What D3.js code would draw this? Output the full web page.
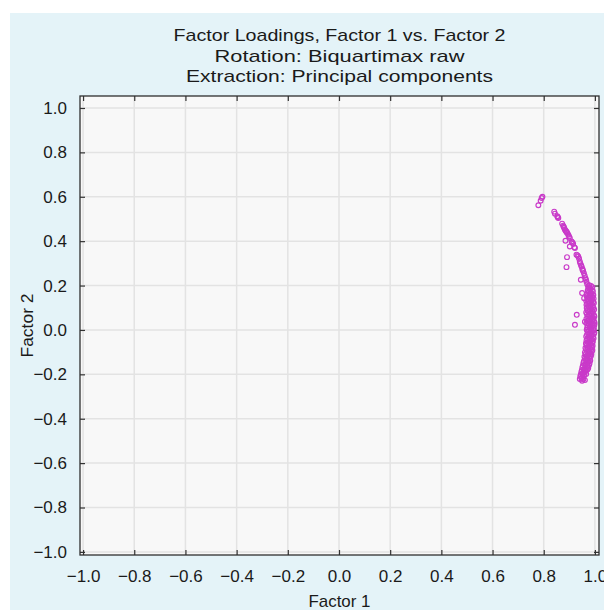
<!DOCTYPE html>
<html>
<head>
<meta charset="utf-8">
<script src="https://cdn.jsdelivr.net/npm/d3@7"></script>
<style>
  html, body { margin: 0; padding: 0; background: #ffffff; }
  svg { display: block; font-family: "Liberation Sans", Arial, sans-serif; }
</style>
</head>
<body>
<svg id="chart" width="604" height="610"></svg>
<script>
// Titles and axis labels
const titleLines = [
  "Factor Loadings, Factor 1 vs. Factor 2",
  "Rotation: Biquartimax raw",
  "Extraction: Principal components"
];
const xLabel = "Factor 1";
const yLabel = "Factor 2";

// Tick values shared by both axes
const xTicks = [-1.0, -0.8, -0.6, -0.4, -0.2, 0.0, 0.2, 0.4, 0.6, 0.8, 1.0];
const yTicks = [-1.0, -0.8, -0.6, -0.4, -0.2, 0.0, 0.2, 0.4, 0.6, 0.8, 1.0];

// Loadings of each variable on Factor 1 (one entry per variable)
const factor1 = [
  0.795, 0.792, 0.788, 0.779,
  0.841, 0.844, 0.853, 0.857, 0.855,
  0.872, 0.876, 0.878, 0.880, 0.883, 0.886, 0.888, 0.892, 0.890, 0.896,
  0.899, 0.902, 0.885, 0.909, 0.912, 0.915, 0.902, 0.920, 0.922,
  0.891, 0.889, 0.928, 0.935, 0.932, 0.938, 0.941, 0.943, 0.946, 0.948,
  0.951, 0.954, 0.952, 0.957, 0.945, 0.960, 0.963, 0.965, 0.967, 0.970,
  0.974, 0.950, 0.958, 0.967, 0.929, 0.922, 0.961, 0.967,
  0.978, 0.985,
  0.975, 0.982, 0.990,
  0.972, 0.980, 0.988,
  0.976, 0.984, 0.992,
  0.970, 0.979, 0.987, 0.994,
  0.968, 0.975, 0.983, 0.991,
  0.972, 0.980, 0.988, 0.995,
  0.966, 0.976, 0.985, 0.993,
  0.970, 0.979, 0.987, 0.996,
  0.974, 0.983, 0.991,
  0.968, 0.977, 0.986, 0.994,
  0.971, 0.980, 0.989, 0.997,
  0.966, 0.975, 0.984, 0.992,
  0.969, 0.978, 0.987, 0.996,
  0.973, 0.982, 0.990, 0.998,
  0.967, 0.976, 0.985, 0.994,
  0.971, 0.980, 0.989, 0.997,
  0.975, 0.984, 0.992, 0.999,
  0.973, 0.982, 0.991, 0.998,
  0.970, 0.979, 0.988, 0.996,
  0.968, 0.977, 0.986, 0.995,
  0.972, 0.981, 0.990, 0.998,
  0.969, 0.978, 0.987, 0.996,
  0.966, 0.975, 0.984, 0.993,
  0.970, 0.979, 0.988, 0.995,
  0.967, 0.976, 0.985, 0.992,
  0.965, 0.973, 0.982, 0.990,
  0.968, 0.977, 0.986, 0.991,
  0.963, 0.972, 0.980, 0.989,
  0.966, 0.975, 0.984, 0.990,
  0.961, 0.970, 0.979, 0.987,
  0.964, 0.973, 0.982, 0.986,
  0.959, 0.968, 0.977, 0.984,
  0.962, 0.971, 0.980,
  0.957, 0.966, 0.975, 0.982,
  0.955, 0.964, 0.973, 0.979,
  0.953, 0.962, 0.970, 0.977,
  0.951, 0.960, 0.968, 0.974,
  0.949, 0.957, 0.965, 0.971,
  0.947, 0.955, 0.962,
  0.945, 0.952, 0.959, 0.966,
  0.943, 0.950, 0.957,
  0.941, 0.948, 0.955, 0.961,
  0.950
];

// Loadings of the same variables on Factor 2 (same order as factor1)
const factor2 = [
  0.600, 0.594, 0.582, 0.562,
  0.533, 0.524, 0.512, 0.504, 0.508,
  0.479, 0.470, 0.465, 0.459, 0.451, 0.447, 0.444, 0.437, 0.440, 0.429,
  0.421, 0.414, 0.402, 0.399, 0.394, 0.388, 0.376, 0.372, 0.369,
  0.328, 0.283, 0.339, 0.331, 0.336, 0.322, 0.308, 0.300, 0.292, 0.286,
  0.276, 0.266, 0.270, 0.256, 0.226, 0.244, 0.233, 0.226, 0.217, 0.206,
  0.196, 0.166, 0.143, 0.113, 0.068, 0.023, 0.037, 0.030,
  0.202, 0.198,
  0.191, 0.188, 0.193,
  0.179, 0.183, 0.177,
  0.171, 0.168, 0.174,
  0.161, 0.158, 0.163, 0.157,
  0.152, 0.147, 0.151, 0.149,
  0.139, 0.142, 0.137, 0.141,
  0.131, 0.128, 0.133, 0.127,
  0.119, 0.122, 0.118, 0.121,
  0.108, 0.111, 0.107,
  0.099, 0.102, 0.097, 0.101,
  0.089, 0.091, 0.087, 0.092,
  0.079, 0.082, 0.078, 0.081,
  0.071, 0.068, 0.072, 0.067,
  0.059, 0.062, 0.058, 0.061,
  0.051, 0.048, 0.052, 0.049,
  0.041, 0.039, 0.042, 0.038,
  0.029, 0.032, 0.028, 0.031,
  0.019, 0.021, 0.018, 0.022,
  0.011, 0.009, 0.012, 0.008,
  0.001, -0.002, 0.002, -0.001,
  -0.009, -0.011, -0.008, -0.012,
  -0.021, -0.019, -0.022, -0.018,
  -0.029, -0.032, -0.028, -0.031,
  -0.041, -0.039, -0.042, -0.038,
  -0.049, -0.052, -0.048, -0.051,
  -0.061, -0.059, -0.062, -0.058,
  -0.069, -0.072, -0.068, -0.071,
  -0.081, -0.079, -0.082, -0.078,
  -0.089, -0.092, -0.088, -0.091,
  -0.101, -0.099, -0.102, -0.098,
  -0.109, -0.112, -0.108, -0.111,
  -0.121, -0.119, -0.122, -0.118,
  -0.129, -0.132, -0.128,
  -0.141, -0.139, -0.142, -0.138,
  -0.149, -0.152, -0.148, -0.151,
  -0.161, -0.159, -0.162, -0.158,
  -0.169, -0.172, -0.168, -0.171,
  -0.181, -0.179, -0.182, -0.178,
  -0.189, -0.192, -0.188,
  -0.201, -0.199, -0.202, -0.198,
  -0.209, -0.212, -0.208,
  -0.221, -0.219, -0.222, -0.226,
  -0.229
];

const points = factor1.map((f, i) => ({ f1: f, f2: factor2[i] }));

const svg = d3.select("#chart");
const W = 604, H = 610;
const plot = { left: 80, right: 599, top: 96, bottom: 555 };
const textColor = "#1a1a1a";

// Panel background
svg.append("rect").attr("x", 0).attr("y", 0).attr("width", W).attr("height", H).attr("fill", "#ffffff");
svg.append("rect").attr("x", 10).attr("y", 13).attr("width", W - 10).attr("height", H - 13).attr("fill", "#e4f3f8");

const x = d3.scaleLinear().domain([-1.012, 1.016]).range([plot.left, plot.right]);
const y = d3.scaleLinear().domain([-1.014, 1.054]).range([plot.bottom, plot.top]);

// Plot area
svg.append("rect")
  .attr("x", plot.left).attr("y", plot.top)
  .attr("width", plot.right - plot.left).attr("height", plot.bottom - plot.top)
  .attr("fill", "#f8f8f8");

// Grid lines
const grid = svg.append("g").attr("stroke", "#e3e3e3").attr("stroke-width", 1.5);
grid.selectAll("line.v").data(xTicks).join("line")
  .attr("class", "v")
  .attr("x1", d => x(d)).attr("x2", d => x(d))
  .attr("y1", plot.top).attr("y2", plot.bottom);
grid.selectAll("line.h").data(yTicks).join("line")
  .attr("class", "h")
  .attr("y1", d => y(d)).attr("y2", d => y(d))
  .attr("x1", plot.left).attr("x2", plot.right);

const fmt = d3.format(".1f");
const tickLen = 5;

// Axes with inward ticks on all four sides
const axisStyle = g => {
  g.select(".domain").remove();
  g.selectAll(".tick line").attr("stroke", "#333333").attr("stroke-width", 1.2);
  g.selectAll(".tick text").attr("fill", textColor).attr("font-size", 17)
    .attr("font-family", "'Liberation Sans', Arial, sans-serif");
};

svg.append("g")
  .attr("transform", `translate(0,${plot.bottom})`)
  .call(d3.axisBottom(x).tickValues(xTicks).tickFormat(fmt).tickSizeInner(-tickLen).tickSizeOuter(0).tickPadding(15))
  .call(axisStyle);

svg.append("g")
  .attr("transform", `translate(0,${plot.top})`)
  .call(d3.axisTop(x).tickValues(xTicks).tickFormat("").tickSizeInner(-tickLen).tickSizeOuter(0))
  .call(axisStyle);

svg.append("g")
  .attr("transform", `translate(${plot.left},0)`)
  .call(d3.axisLeft(y).tickValues(yTicks).tickFormat(fmt).tickSizeInner(-tickLen).tickSizeOuter(0).tickPadding(13))
  .call(axisStyle);

svg.append("g")
  .attr("transform", `translate(${plot.right},0)`)
  .call(d3.axisRight(y).tickValues(yTicks).tickFormat("").tickSizeInner(-tickLen).tickSizeOuter(0))
  .call(axisStyle);

// Frame
svg.append("rect")
  .attr("x", plot.left).attr("y", plot.top)
  .attr("width", plot.right - plot.left).attr("height", plot.bottom - plot.top)
  .attr("fill", "none").attr("stroke", "#2e2e2e").attr("stroke-width", 1.3);

// Scatter points
svg.append("g")
  .selectAll("circle").data(points).join("circle")
  .attr("cx", d => x(d.f1)).attr("cy", d => y(d.f2))
  .attr("r", 2.4)
  .attr("fill", "none")
  .attr("stroke", "#c93ac9")
  .attr("stroke-width", 1.15);

// Title (wide sans lettering)
const cx = (plot.left + plot.right) / 2;
const titleWidths = [332, 250, 307];
svg.append("g").selectAll("text").data(titleLines).join("text")
  .attr("x", cx).attr("y", (d, i) => 41 + i * 20.5)
  .attr("text-anchor", "middle").attr("font-size", 17).attr("fill", textColor)
  .attr("textLength", (d, i) => titleWidths[i])
  .attr("lengthAdjust", "spacingAndGlyphs")
  .text(d => d);

// Axis titles
svg.append("text")
  .attr("x", cx).attr("y", 607)
  .attr("text-anchor", "middle").attr("font-size", 17).attr("fill", textColor)
  .attr("textLength", 62).attr("lengthAdjust", "spacingAndGlyphs")
  .text(xLabel);

svg.append("text")
  .attr("transform", `translate(33,${(plot.top + plot.bottom) / 2}) rotate(-90)`)
  .attr("text-anchor", "middle").attr("font-size", 17).attr("fill", textColor)
  .attr("textLength", 64).attr("lengthAdjust", "spacingAndGlyphs")
  .text(yLabel);
</script>
</body>
</html>
